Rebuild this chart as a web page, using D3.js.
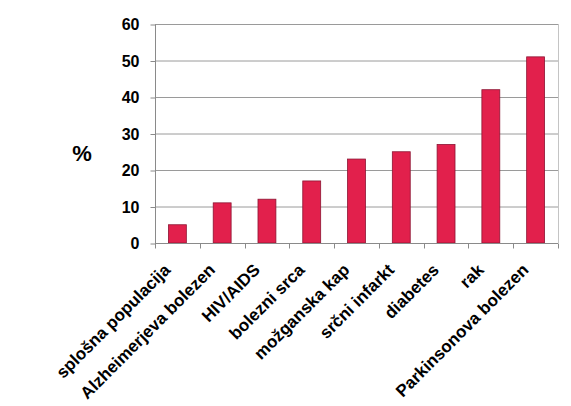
<!DOCTYPE html>
<html>
<head>
<meta charset="utf-8">
<script src="https://cdn.jsdelivr.net/npm/d3@7"></script>
<style>
body { margin: 0; background: #fff; }
text { font-family: "Liberation Sans", Arial, sans-serif; font-weight: bold; fill: #000; }
</style>
</head>
<body>
<script>
var width = 571;
var height = 406;

// data
var categories = ["splošna populacija", "Alzheimerjeva bolezen", "HIV/AIDS", "bolezni srca",
    "možganska kap", "srčni infarkt", "diabetes", "rak", "Parkinsonova bolezen"];
var values = [5, 11, 12, 17, 23, 25, 27, 42, 51];
var yTicks = [0, 10, 20, 30, 40, 50, 60];

var margin = {left: 155, right: 13, top: 24, bottom: 163};

var svg = d3.select("body").append("svg")
    .attr("width", width)
    .attr("height", height);

var x = d3.scaleBand()
    .domain(categories)
    .range([margin.left, width - margin.right])
    .paddingInner(0.6)
    .paddingOuter(0.3);

var y = d3.scaleLinear()
    .domain([0, 60])
    .range([height - margin.bottom, margin.top]);

// gridlines
svg.append("g")
    .selectAll("line")
    .data(yTicks.slice(1))
    .enter().append("line")
    .attr("x1", margin.left)
    .attr("x2", width - margin.right)
    .attr("y1", function(d) { return y(d) + 0.5; })
    .attr("y2", function(d) { return y(d) + 0.5; })
    .style("stroke", "#9a9a9a");

// right border
svg.append("line")
    .attr("x1", width - margin.right + 0.5).attr("x2", width - margin.right + 0.5)
    .attr("y1", y(60)).attr("y2", y(0))
    .style("stroke", "#c4c4c4");

// bars
svg.append("g")
    .selectAll("rect")
    .data(values)
    .enter().append("rect")
    .attr("x", function(d, i) { return x(categories[i]); })
    .attr("width", x.bandwidth())
    .attr("y", function(d) { return y(d); })
    .attr("height", function(d) { return y(0) - y(d); })
    .style("fill", "#e2204c")
    .style("stroke", "#8c1533")
    .style("stroke-width", 0.8);

// y axis
var yAxis = svg.append("g")
    .attr("transform", "translate(" + (margin.left + 0.5) + ",0.5)")
    .call(d3.axisLeft(y).tickValues(yTicks).tickSize(5).tickPadding(11));
yAxis.selectAll("path, line").style("stroke", "#8a8a8a");
yAxis.select(".domain").attr("d", "M0," + y(60) + "V" + y(0));
yAxis.selectAll("text").style("font-size", "16px").style("font-family", "Liberation Sans, Arial, sans-serif");

// x axis with ticks at band edges
var xAxis = svg.append("g")
    .attr("transform", "translate(0," + (y(0) + 0.5) + ")");
xAxis.append("line")
    .attr("x1", margin.left).attr("x2", width - margin.right)
    .style("stroke", "#8a8a8a");
var edges = d3.range(categories.length + 1).map(function(i) { return margin.left + i * (width - margin.left - margin.right) / categories.length; });
xAxis.selectAll(".edge")
    .data(edges)
    .enter().append("line")
    .attr("class", "edge")
    .attr("x1", function(d) { return Math.round(d) + 0.5; })
    .attr("x2", function(d) { return Math.round(d) + 0.5; })
    .attr("y1", 0).attr("y2", 5)
    .style("stroke", "#8a8a8a");

// category labels
svg.append("g")
    .selectAll("text")
    .data(categories)
    .enter().append("text")
    .attr("transform", function(d) {
        return "translate(" + (x(d) + x.bandwidth() / 2 - 6) + "," + (y(0) + 28) + ") rotate(-45)";
    })
    .attr("text-anchor", "end")
    .style("font-size", "17px")
    .text(function(d) { return d; });

// y title
svg.append("text")
    .attr("x", 82)
    .attr("y", 161)
    .attr("text-anchor", "middle")
    .style("font-size", "22px")
    .text("%");
</script>
</body>
</html>
